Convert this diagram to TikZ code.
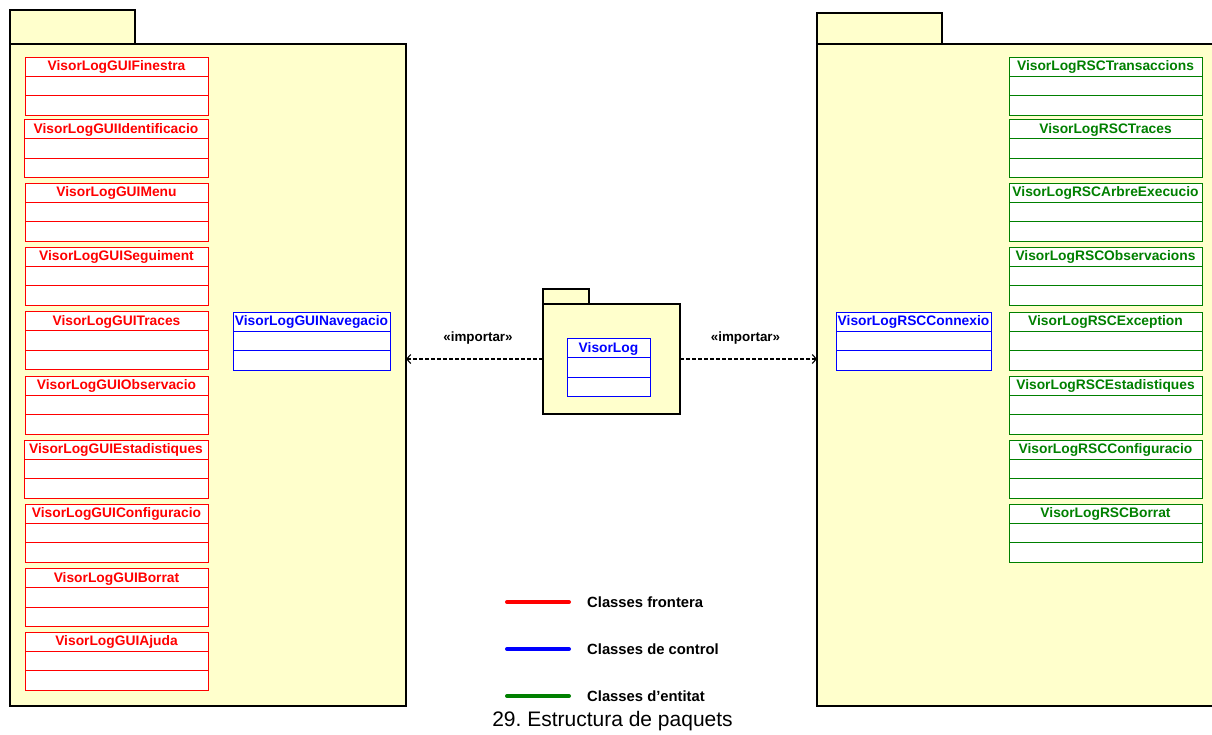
\documentclass[tikz,border=0pt]{standalone}
\usepackage{fontspec}
\setmainfont{Liberation Sans}
\usetikzlibrary{arrows.meta}
\frenchspacing

\definecolor{pkgfill}{RGB}{255,255,204}
\definecolor{frontera}{RGB}{255,0,0}
\definecolor{control}{RGB}{0,0,255}
\definecolor{entitat}{RGB}{0,128,0}

\tikzset{
  pkgpart/.style={draw=black, fill=pkgfill, line width=2.3pt, rectangle,
    inner sep=0pt, outer sep=0pt, anchor=north west},
  classbody/.style={rectangle, fill=white, line width=1pt, inner sep=0pt,
    outer sep=0pt, minimum height=58pt, anchor=north west},
  classname/.style={font=\fontsize{13.8}{16}\selectfont\bfseries, inner sep=0pt},
  importlink/.style={line width=1.2pt, dash pattern=on 4pt off 2pt,
    -{Straight Barb[length=4pt,width=9pt,line width=1.1pt]}},
  stereo/.style={font=\fontsize{13.4}{16}\selectfont\bfseries, inner sep=0pt},
  legendline/.style={line width=4pt, line cap=round},
  legendtext/.style={font=\fontsize{14.8}{17}\selectfont\bfseries, inner sep=0pt, anchor=west},
}

% class box: name, left x, top y, width, colour, label
\newcommand\classbox[6]{%
  \node[classbody, draw=#5, minimum width=#4pt] (#1) at (#2,#3) {};
  \draw[#5, line width=1pt] ([yshift=-19.4pt]#1.north west) -- ([yshift=-19.4pt]#1.north east);
  \draw[#5, line width=1pt] ([yshift=-38.8pt]#1.north west) -- ([yshift=-38.8pt]#1.north east);
  \node[classname, text=#5] (#1-name) at ([yshift=-10pt]#1.north) {#6};
}

% package: name, left x, tab top y, tab width, body top y, body width, body height
\newcommand\umlpackage[7]{%
  \node[pkgpart, minimum width=#4pt, minimum height=#5pt-#3pt] (#1-tab) at (#2,#3) {};
  \node[pkgpart, minimum width=#6pt, minimum height=#7pt] (#1) at (#2,#5) {};
}

\begin{document}
\begin{tikzpicture}[x=1pt, y=-1pt]
  \useasboundingbox (0,0) rectangle (1212,734);

  % packages
  \umlpackage{gui}{10}{10}{125}{44}{396}{662}
  \umlpackage{rsc}{817}{13}{125}{44}{420}{662}
  \umlpackage{core}{543}{289}{46}{304}{137}{110}

  % boundary classes
  \classbox{finestra}{25}{57}{183}{frontera}{VisorLogGUIFinestra}
  \classbox{identificacio}{24}{119.5}{184}{frontera}{VisorLogGUIIdentificacio}
  \classbox{menu}{25}{183}{183}{frontera}{VisorLogGUIMenu}
  \classbox{seguiment}{25}{247}{183}{frontera}{VisorLogGUISeguiment}
  \classbox{traces}{25}{311.5}{183}{frontera}{VisorLogGUITraces}
  \classbox{observacio}{25}{376}{183}{frontera}{VisorLogGUIObservacio}
  \classbox{estadistiques}{24}{440}{184}{frontera}{VisorLogGUIEstadistiques}
  \classbox{configuracio}{25}{504}{183}{frontera}{VisorLogGUIConfiguracio}
  \classbox{borrat}{25}{568.5}{183}{frontera}{VisorLogGUIBorrat}
  \classbox{ajuda}{25}{632}{183}{frontera}{VisorLogGUIAjuda}

  % control classes
  \classbox{navegacio}{233}{312}{157}{control}{VisorLogGUINavegacio}
  \classbox{visorlog}{567}{338.5}{83}{control}{VisorLog}
  \classbox{connexio}{836}{312}{155}{control}{VisorLogRSCConnexio}

  % entity classes
  \classbox{transaccions}{1009}{57}{193}{entitat}{VisorLogRSCTransaccions}
  \classbox{rsctraces}{1009}{119.5}{193}{entitat}{VisorLogRSCTraces}
  \classbox{arbre}{1009}{183}{193}{entitat}{VisorLogRSCArbreExecucio}
  \classbox{observacions}{1009}{247}{193}{entitat}{VisorLogRSCObservacions}
  \classbox{exception}{1009}{312}{193}{entitat}{VisorLogRSCException}
  \classbox{rscestad}{1009}{376}{193}{entitat}{VisorLogRSCEstadistiques}
  \classbox{rscconfig}{1009}{440}{193}{entitat}{VisorLogRSCConfiguracio}
  \classbox{rscborrat}{1009}{504}{193}{entitat}{VisorLogRSCBorrat}

  % import dependencies
  \draw[importlink] (core.west) -- (core.west -| gui.east);
  \draw[importlink] (core.east) -- (core.east -| rsc.west);
  \node[stereo] (impgui) at (478,338) {«importar»};
  \node[stereo] (imprsc) at (745.5,338) {«importar»};

  % legend
  \coordinate (l1a) at (507,602); \coordinate (l1b) at (569,602);
  \coordinate (l2a) at (507,649); \coordinate (l2b) at (569,649);
  \coordinate (l3a) at (507,696); \coordinate (l3b) at (569,696);
  \draw[legendline, frontera] (l1a) -- (l1b);
  \draw[legendline, control] (l2a) -- (l2b);
  \draw[legendline, entitat] (l3a) -- (l3b);
  \node[legendtext] (lt1) at (587,602) {Classes frontera};
  \node[legendtext] (lt2) at (587,649) {Classes de control};
  \node[legendtext] (lt3) at (587,696) {Classes d’entitat};

  % caption
  \node[font=\fontsize{21}{24}\selectfont, inner sep=0pt] (caption) at (612.5,721) {29. Estructura de paquets};
\end{tikzpicture}
\end{document}
